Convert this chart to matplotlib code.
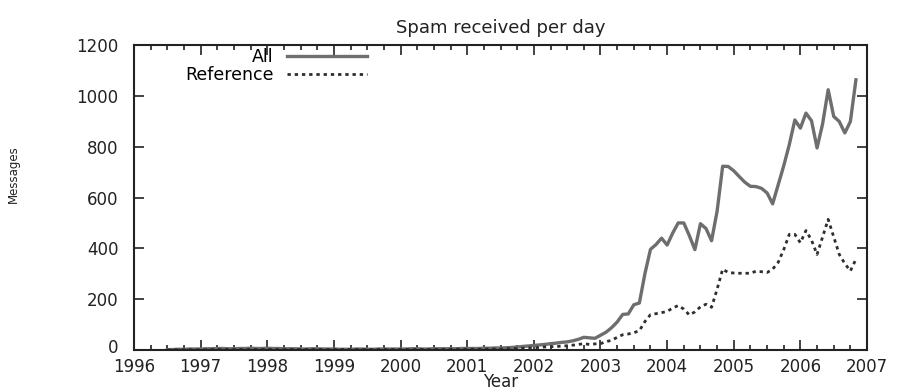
"""Spam received per day, monthly averages 1996-2006."""
import numpy as np
import matplotlib
matplotlib.use('Agg')
import matplotlib.pyplot as plt
from matplotlib.ticker import MultipleLocator
from matplotlib.transforms import ScaledTranslation

START_YEAR = 1996
START_MONTH = 7

all_msgs = [
    1, 2, 3, 3, 4, 4,                                        # 1996 (Jul-Dec)
    4, 5, 5, 6, 6, 5, 5, 6, 6, 7, 6, 6,                      # 1997
    7, 6, 6, 5, 5, 5, 4, 4, 5, 5, 4, 4,                      # 1998
    4, 3, 3, 3, 4, 4, 3, 3, 4, 4, 4, 4,                      # 1999
    4, 4, 5, 5, 4, 4, 5, 5, 5, 5, 5, 6,                      # 2000
    6, 6, 6, 7, 7, 8, 8, 9, 10, 12, 14, 16,                  # 2001
    18, 20, 22, 25, 27, 30, 32, 36, 42, 50, 48, 46,          # 2002
    58, 70, 88, 110, 140, 142, 178, 185, 300, 396, 415, 440,  # 2003
    413, 460, 500, 500, 450, 395, 497, 478, 430, 546, 723, 722,  # 2004
    705, 682, 660, 644, 643, 636, 618, 575, 650, 725, 808, 905,  # 2005
    873, 932, 902, 795, 890, 1024, 919, 899, 854, 899, 1063,     # 2006
]
ref_msgs = [
    0, 1, 1, 1, 1, 1,
    1, 1, 2, 2, 2, 2, 2, 2, 2, 2, 2, 2,
    2, 2, 2, 2, 2, 2, 2, 2, 2, 2, 2, 2,
    2, 2, 2, 2, 2, 2, 2, 2, 2, 2, 2, 2,
    2, 2, 2, 2, 2, 2, 2, 2, 3, 3, 3, 3,
    3, 3, 3, 3, 4, 4, 4, 5, 5, 6, 7, 8,
    9, 10, 12, 13, 14, 15, 17, 19, 22, 25, 22, 24,
    25, 33, 38, 50, 60, 63, 68, 76, 112, 139, 143, 147,
    152, 165, 175, 161, 138, 150, 170, 180, 168, 239, 318, 305,
    303, 302, 302, 302, 310, 308, 305, 318, 345, 395, 455, 455,
    422, 470, 432, 376, 445, 514, 445, 376, 340, 311, 357,
]
year_ticks = list(range(1996, 2008))
msg_ticks = [0, 200, 400, 600, 800, 1000, 1200]

# decimal year for each monthly sample
x = START_YEAR + (START_MONTH - 1) / 12 + np.arange(len(all_msgs)) / 12

plt.rcParams['font.family'] = 'DejaVu Sans'
fig = plt.figure(figsize=(8.97, 3.92), dpi=100)
ax = fig.add_axes([0.1494, 0.1071, 0.8172, 0.7781])

ax.plot(x, all_msgs, color='#6e6e6e', lw=2.4, label='All')
ax.plot(x, ref_msgs, color='#2e2e2e', lw=2.0, ls=(0, (1.2, 1.4)), label='Reference')

ax.set_xlim(1996, 2007)
ax.set_ylim(0, 1200)
ax.set_xticks(year_ticks)
ax.set_yticks(msg_ticks)
ax.xaxis.set_minor_locator(MultipleLocator(0.25))
ax.tick_params(which='both', direction='in', top=True, right=True,
               labelsize=12, colors='#222222', width=1.2)
ax.tick_params(which='major', length=7)
ax.tick_params(which='minor', length=3.5)
ax.tick_params(axis='x', pad=5.5)
ax.tick_params(axis='y', pad=11)
for s in ax.spines.values():
    s.set_linewidth(1.5)
    s.set_color('#222222')

# nudge the "0" label up so it clears the 1996 year label
zero_lbl = ax.get_yticklabels()[0]
zero_lbl.set_transform(zero_lbl.get_transform() + ScaledTranslation(0, 3 / 72, fig.dpi_scale_trans))

ax.set_title('Spam received per day', fontsize=13, pad=9, color='#222222')
ax.set_xlabel('Year', fontsize=12, labelpad=-2, color='#222222')
fig.text(0.015, 0.555, 'Messages', rotation=90, fontsize=8.5,
         ha='center', va='center', color='#222222')

ax.legend(loc='upper left', bbox_to_anchor=(0.053, 1.03), frameon=False,
          markerfirst=False, fontsize=12.5, handlelength=4.6,
          handletextpad=0.8, labelspacing=0.0, borderpad=0.2)

fig.savefig('out.png', dpi=100)
